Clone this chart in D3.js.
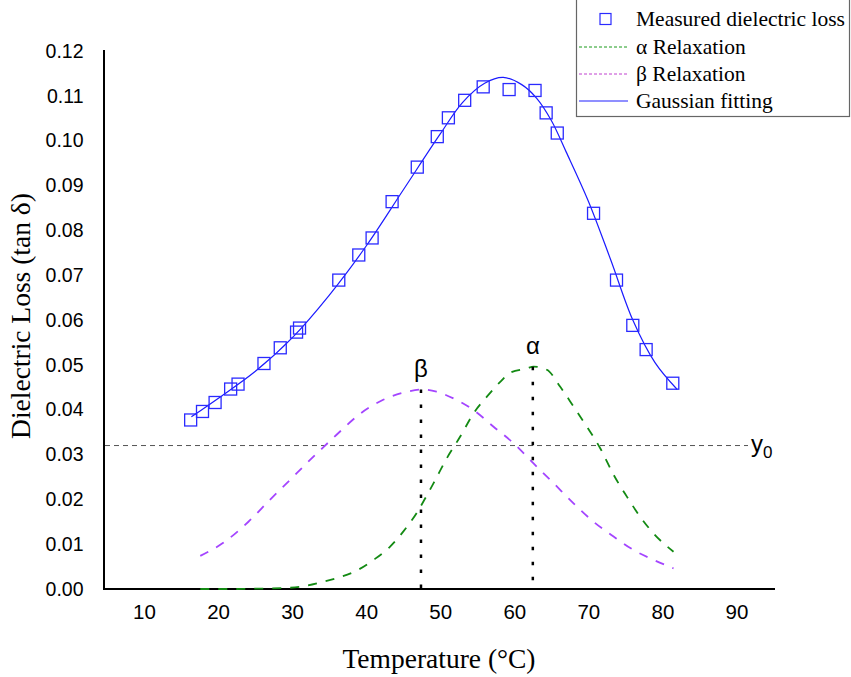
<!DOCTYPE html>
<html>
<head>
<meta charset="utf-8">
<script src="https://cdn.jsdelivr.net/npm/d3@7"></script>
<style>
  html, body { margin: 0; padding: 0; background: #fff; }
  svg { display: block; }
</style>
</head>
<body>
<svg id="chart" width="851" height="677"></svg>
<script>
// ---- Data ----
const measuredTemp = [16.3, 17.9, 19.6, 21.7, 22.7, 26.2, 28.4, 30.6, 31.0, 36.3, 39.0, 40.8, 43.5, 46.9, 49.6, 51.1, 53.3, 55.8, 59.3, 62.8, 64.3, 65.8, 70.7, 73.8, 76.0, 77.8, 81.4];
const measuredLoss = [0.0377, 0.0396, 0.0416, 0.0446, 0.0457, 0.0503, 0.0538, 0.0573, 0.0582, 0.0689, 0.0745, 0.0783, 0.0864, 0.0941, 0.1009, 0.1051, 0.1090, 0.1120, 0.1114, 0.1112, 0.1062, 0.1017, 0.0838, 0.0689, 0.0588, 0.0534, 0.0459];

const fitTemp = [16.4, 20, 25, 30, 35, 40, 45, 50, 53, 56, 58.5, 61, 63, 65, 67, 70, 73, 76, 79, 82];
const fitLoss = [0.0384, 0.0425, 0.0485, 0.0560, 0.0655, 0.0765, 0.0890, 0.1015, 0.1085, 0.1128, 0.1141, 0.1125, 0.1095, 0.1045, 0.0975, 0.0865, 0.0735, 0.0600, 0.0505, 0.0445];

const alphaTemp = [17.6, 22.0, 26.0, 28.8, 31.1, 34.2, 36.0, 38.7, 41.0, 43.2, 45.0, 46.8, 48.1, 49.1, 50.9, 52.7, 54.5, 56.3, 58.1, 59.4, 61.7, 62.6, 64.4, 66.2, 68.0, 69.8, 71.6, 73.4, 75.2, 77.0, 78.8, 81.5];
const alphaLoss = [0.0000, 0.0000, 0.0001, 0.0002, 0.0005, 0.0016, 0.0024, 0.0041, 0.0065, 0.0094, 0.0128, 0.0169, 0.0206, 0.0236, 0.0292, 0.0340, 0.0392, 0.0429, 0.0462, 0.0482, 0.0492, 0.0496, 0.0489, 0.0451, 0.0407, 0.0362, 0.0314, 0.0255, 0.0206, 0.0161, 0.0124, 0.0083];

const betaTemp = [17.6, 20.7, 24.1, 27.0, 29.7, 32.0, 34.2, 36.0, 39.2, 42.3, 45.5, 47.5, 49.5, 51.8, 54.5, 57.2, 59.9, 62.6, 65.3, 68.0, 70.7, 73.4, 76.1, 78.8, 81.5];
const betaLoss = [0.0074, 0.0103, 0.0150, 0.0199, 0.0243, 0.0281, 0.0316, 0.0344, 0.0391, 0.0422, 0.0440, 0.0445, 0.0440, 0.0425, 0.0399, 0.0362, 0.0325, 0.0280, 0.0236, 0.0191, 0.0150, 0.0117, 0.0087, 0.0065, 0.0046];

const y0Value = 0.032;
const betaPeakTemp = 47.4, betaPeakLoss = 0.0445;
const alphaPeakTemp = 62.5, alphaPeakLoss = 0.0496;

const xTicks = [10, 20, 30, 40, 50, 60, 70, 80, 90];
const yTicks = [0, 0.01, 0.02, 0.03, 0.04, 0.05, 0.06, 0.07, 0.08, 0.09, 0.10, 0.11, 0.12];

const legendLabels = ["Measured dielectric loss", "\u03b1 Relaxation", "\u03b2 Relaxation", "Gaussian fitting"];

// ---- Scales ----
const svg = d3.select("#chart");
const x = d3.scaleLinear().domain([4.6, 95.2]).range([104, 775]);
const y = d3.scaleLinear().domain([0, 0.12]).range([589, 51]);

const serif = "'Liberation Serif', 'Times New Roman', serif";
const sans = "'Liberation Sans', Arial, sans-serif";

// ---- Axes ----
const xAxis = d3.axisBottom(x).tickValues(xTicks).tickSize(0).tickPadding(15).tickFormat(d3.format("d"));
const gx = svg.append("g").attr("transform", `translate(0,${y(0)})`).call(xAxis);
gx.select(".domain").attr("stroke", "#000").attr("stroke-width", 2).attr("d", `M104,0H775`);
gx.selectAll("text").attr("font-family", sans).attr("font-size", 20.5).attr("fill", "#000");

const yAxis = d3.axisLeft(y).tickValues(yTicks).tickSize(0).tickPadding(20.5).tickFormat(d3.format(".2f"));
const gy = svg.append("g").attr("transform", `translate(104,0)`).call(yAxis);
gy.select(".domain").attr("stroke", "#000").attr("stroke-width", 2).attr("d", `M0,50V${y(0) + 1}`);
gy.selectAll("text").attr("font-family", sans).attr("font-size", 19.5).attr("fill", "#000");

// ---- y0 dashed line ----
svg.append("line")
  .attr("x1", x(4.6) + 1).attr("x2", 748)
  .attr("y1", y(y0Value)).attr("y2", y(y0Value))
  .attr("stroke", "#555").attr("stroke-width", 1)
  .attr("stroke-dasharray", "5,4");

// ---- Relaxation curves ----
const line = (xs, ys, curve) => d3.line()
  .x((d, i) => x(xs[i])).y((d, i) => y(ys[i]))
  .curve(curve)(xs);

svg.append("path")
  .attr("d", line(betaTemp, betaLoss, d3.curveMonotoneX))
  .attr("fill", "none").attr("stroke", "#a445ff").attr("stroke-width", 1.8)
  .attr("stroke-dasharray", "9,9");

svg.append("path")
  .attr("d", line(alphaTemp, alphaLoss, d3.curveMonotoneX))
  .attr("fill", "none").attr("stroke", "#138a13").attr("stroke-width", 1.8)
  .attr("stroke-dasharray", "9,9");

// ---- Vertical dotted peak lines ----
[[betaPeakTemp, betaPeakLoss], [alphaPeakTemp, alphaPeakLoss]].forEach(([t, v]) => {
  svg.append("line")
    .attr("x1", x(t)).attr("x2", x(t))
    .attr("y1", y(v)).attr("y2", y(0))
    .attr("stroke", "#000").attr("stroke-width", 2.5)
    .attr("stroke-dasharray", "3.5,11.5");
});

// ---- Gaussian fitting line ----
svg.append("path")
  .attr("d", line(fitTemp, fitLoss, d3.curveCatmullRom))
  .attr("fill", "none").attr("stroke", "#1a1aff").attr("stroke-width", 1.2);

// ---- Measured markers ----
svg.append("g").selectAll("rect").data(measuredTemp).join("rect")
  .attr("x", (d) => x(d) - 6)
  .attr("y", (d, i) => y(measuredLoss[i]) - 6)
  .attr("width", 12).attr("height", 12)
  .attr("fill", "none").attr("stroke", "#2a2aff").attr("stroke-width", 1.3);

// ---- Annotations ----
svg.append("text").attr("x", x(betaPeakTemp)).attr("y", y(betaPeakLoss) - 12)
  .attr("text-anchor", "middle").attr("font-family", sans).attr("font-size", 24).text("\u03b2");
svg.append("text").attr("x", x(alphaPeakTemp)).attr("y", y(alphaPeakLoss) - 13)
  .attr("text-anchor", "middle").attr("font-family", sans).attr("font-size", 24).text("\u03b1");
const y0t = svg.append("text").attr("x", 751).attr("y", y(y0Value) + 6)
  .attr("font-family", sans).attr("font-size", 24);
y0t.append("tspan").text("y");
y0t.append("tspan").attr("font-size", 17).attr("dy", 6).text("0");

// ---- Axis titles ----
svg.append("text").attr("x", 439).attr("y", 668).attr("text-anchor", "middle")
  .attr("font-family", serif).attr("font-size", 27.5).text("Temperature (\u00b0C)");
svg.append("text").attr("transform", "translate(30,316) rotate(-90)").attr("text-anchor", "middle")
  .attr("font-family", serif).attr("font-size", 27.5).text("Dielectric Loss (tan \u03b4)");

// ---- Legend ----
const lg = svg.append("g");
lg.append("rect").attr("x", 576.5).attr("y", -1).attr("width", 273).attr("height", 117.5)
  .attr("fill", "#fff").attr("stroke", "#666").attr("stroke-width", 1.2);
const rowY = [19, 47, 74, 101];
lg.append("rect").attr("x", 600).attr("y", rowY[0] - 5.5).attr("width", 11).attr("height", 11)
  .attr("fill", "none").attr("stroke", "#2a2aff").attr("stroke-width", 1.2);
lg.append("line").attr("x1", 579).attr("x2", 628).attr("y1", rowY[1]).attr("y2", rowY[1])
  .attr("stroke", "#1a9a1a").attr("stroke-width", 1).attr("stroke-dasharray", "3,2");
lg.append("line").attr("x1", 579).attr("x2", 628).attr("y1", rowY[2]).attr("y2", rowY[2])
  .attr("stroke", "#c040d0").attr("stroke-width", 1).attr("stroke-dasharray", "3,2");
lg.append("line").attr("x1", 579).attr("x2", 628).attr("y1", rowY[3]).attr("y2", rowY[3])
  .attr("stroke", "#6a6aff").attr("stroke-width", 1.3);
lg.selectAll("text.lbl").data(legendLabels).join("text").attr("class", "lbl")
  .attr("x", 636).attr("y", (d, i) => rowY[i] + 7)
  .attr("font-family", serif).attr("font-size", 21.5).attr("fill", "#000")
  .text((d) => d);
</script>
</body>
</html>
